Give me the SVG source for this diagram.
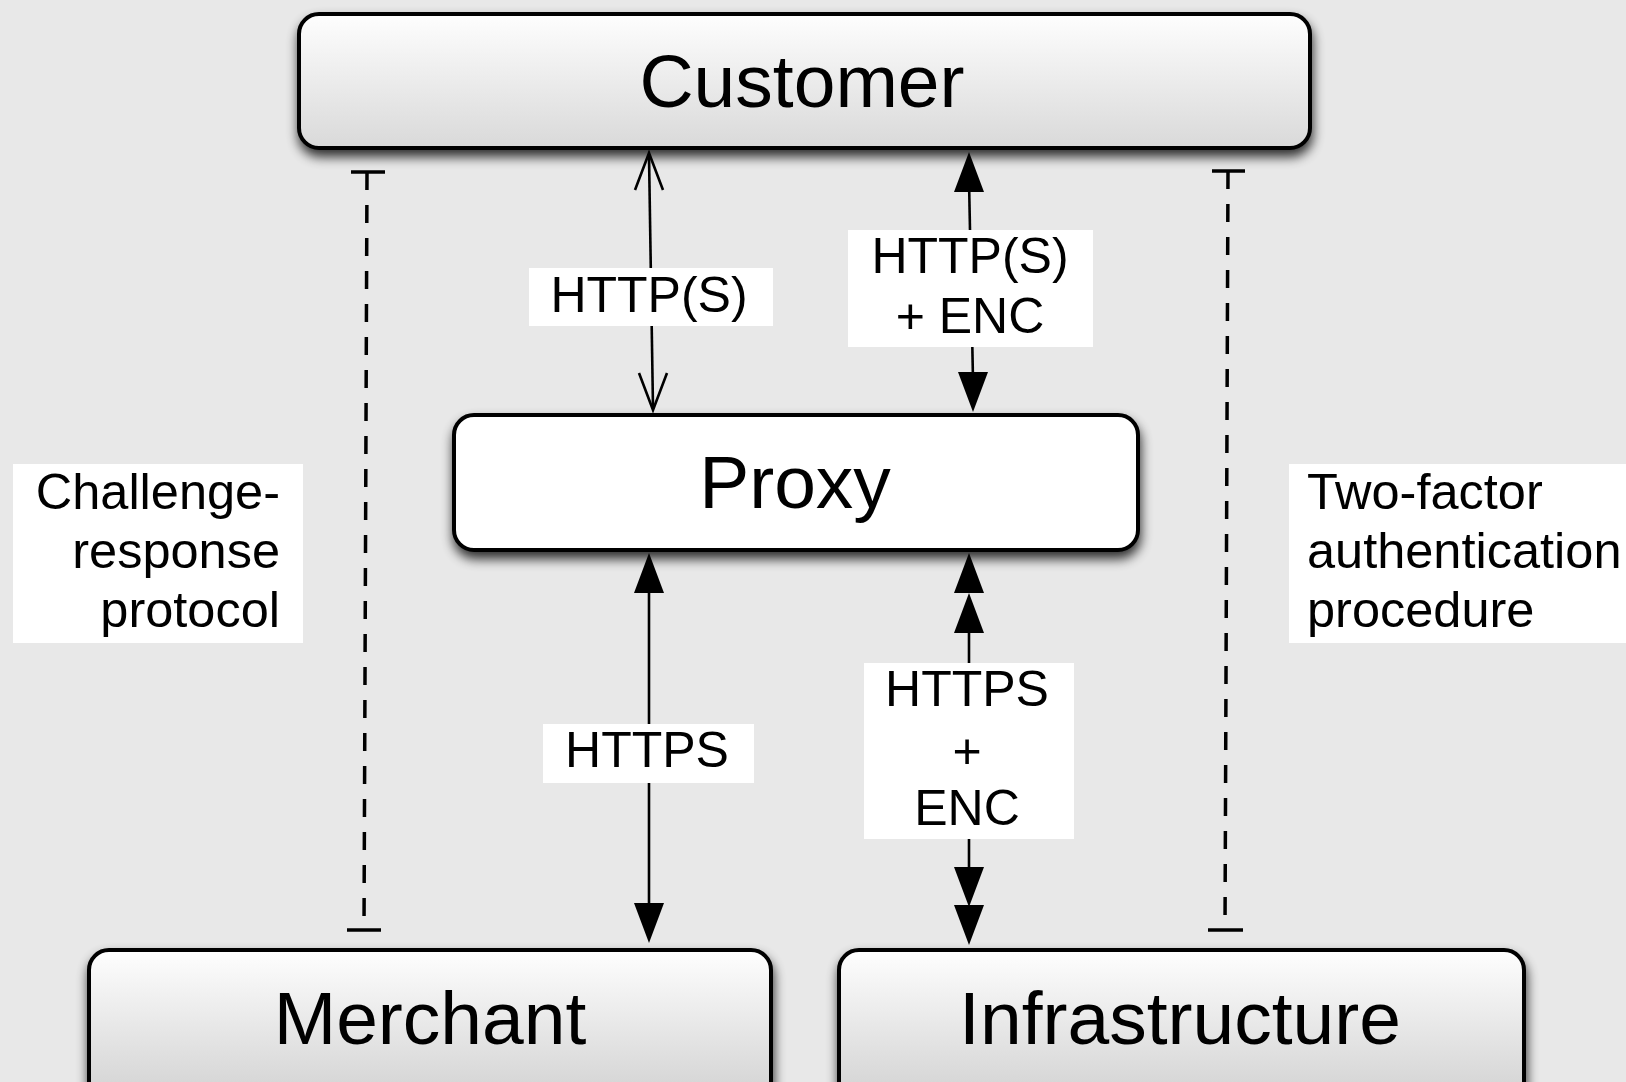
<svg xmlns="http://www.w3.org/2000/svg" xmlns:xlink="http://www.w3.org/1999/xlink" width="1626" height="1082" viewBox="0 0 1626 1082">
<style>
.node{stroke:#000;stroke-width:4}
.ntext{font-family:"Liberation Sans",Arial,Helvetica,sans-serif;font-size:75px;fill:#000;text-anchor:middle}
.ltext{font-family:"Liberation Sans",Arial,Helvetica,sans-serif;font-size:50px;fill:#000;text-anchor:middle}
.stext{font-family:"Liberation Sans",Arial,Helvetica,sans-serif;font-size:50.5px;fill:#000}
.lbl{fill:#fff}
.conn{stroke:#000;stroke-width:2.6;fill:none}
.dash{stroke:#000;stroke-width:3.5;fill:none;stroke-dasharray:18 15}
.bar{stroke:#000;stroke-width:3.5}
.open{stroke:#000;stroke-width:2.6;fill:none;stroke-linejoin:miter}
</style>
<defs>
<linearGradient id="grad" x1="0" y1="0" x2="0" y2="1">
<stop offset="0" stop-color="#fefefe"/>
<stop offset="1" stop-color="#d9d9d9"/>
</linearGradient>
<linearGradient id="gradTall" x1="0" y1="0" x2="0" y2="1">
<stop offset="0" stop-color="#fefefe"/>
<stop offset="1" stop-color="#cfcfcf"/>
</linearGradient>
<filter id="shadow" x="-10%" y="-20%" width="120%" height="150%">
<feGaussianBlur in="SourceAlpha" stdDeviation="6"/>
<feOffset dx="1" dy="7" result="b"/>
<feComponentTransfer in="b" result="s"><feFuncA type="linear" slope="0.8"/></feComponentTransfer>
<feMerge><feMergeNode in="s"/><feMergeNode in="SourceGraphic"/></feMerge>
</filter>
<path id="headDown" d="M0,0 L-15,-40 L15,-40 Z" fill="#000"/>
<path id="headUp" d="M0,0 L-15,40 L15,40 Z" fill="#000"/>
</defs>

<rect x="0" y="0" width="1626" height="1082" fill="#e8e8e8"/>

<g id="node-customer">
<rect class="node" x="299" y="14" width="1011" height="134" rx="20" fill="url(#grad)" filter="url(#shadow)"/>
<text class="ntext" x="802" y="107">Customer</text>
</g>

<g id="node-proxy">
<rect class="node" x="454" y="415" width="684" height="135" rx="20" fill="#fff" filter="url(#shadow)"/>
<text class="ntext" x="795" y="508">Proxy</text>
</g>

<g id="node-merchant">
<rect class="node" x="89" y="950" width="682" height="160" rx="20" fill="url(#gradTall)" filter="url(#shadow)"/>
<text class="ntext" x="430" y="1044">Merchant</text>
</g>

<g id="node-infrastructure">
<rect class="node" x="839" y="950" width="685" height="160" rx="20" fill="url(#gradTall)" filter="url(#shadow)"/>
<text class="ntext" x="1180" y="1044">Infrastructure</text>
</g>

<g id="connectors">
<!-- Customer <-> Proxy : HTTP(S) -->
<line class="conn" x1="649" y1="155" x2="653" y2="408"/>
<path class="open" d="M635,190 L649,153 L663,190"/>
<path class="open" d="M639,373 L653,410 L667,373"/>
<!-- Customer <-> Proxy : HTTP(S) + ENC -->
<line class="conn" x1="969" y1="180" x2="973" y2="380"/>
<use xlink:href="#headUp" x="969" y="152"/>
<use xlink:href="#headDown" x="973" y="412"/>
<!-- Proxy <-> Merchant : HTTPS -->
<line class="conn" x1="649" y1="580" x2="649" y2="915"/>
<use xlink:href="#headUp" x="649" y="553"/>
<use xlink:href="#headDown" x="649" y="943"/>
<!-- Proxy <-> Infrastructure : HTTPS + ENC -->
<line class="conn" x1="969" y1="620" x2="969" y2="880"/>
<use xlink:href="#headUp" x="969" y="553"/>
<use xlink:href="#headUp" x="969" y="593"/>
<use xlink:href="#headDown" x="969" y="907"/>
<use xlink:href="#headDown" x="969" y="945"/>
<!-- Customer - Merchant : challenge-response (dashed) -->
<line class="dash" x1="367" y1="172" x2="364" y2="930"/>
<line class="bar" x1="351" y1="172" x2="385" y2="172"/>
<line class="bar" x1="347" y1="930" x2="381" y2="930"/>
<!-- Customer - Infrastructure : two-factor (dashed) -->
<line class="dash" x1="1228" y1="171" x2="1225" y2="930"/>
<line class="bar" x1="1212" y1="171" x2="1245" y2="171"/>
<line class="bar" x1="1208" y1="930" x2="1243" y2="930"/>

<!-- connector labels -->
<rect class="lbl" x="529" y="268" width="244" height="58"/>
<text class="ltext" x="649" y="312">HTTP(S)</text>
<rect class="lbl" x="848" y="230" width="245" height="117"/>
<text class="ltext" x="970" y="273">HTTP(S)</text>
<text class="ltext" x="970" y="333">+ ENC</text>
<rect class="lbl" x="543" y="724" width="211" height="59"/>
<text class="ltext" x="647" y="767">HTTPS</text>
<rect class="lbl" x="864" y="663" width="210" height="176"/>
<text class="ltext" x="967" y="706">HTTPS</text>
<text class="ltext" x="967" y="768">+</text>
<text class="ltext" x="967" y="825">ENC</text>

<rect class="lbl" x="13" y="464" width="290" height="179"/>
<text class="stext" x="280" y="509" text-anchor="end">Challenge-</text>
<text class="stext" x="280" y="568" text-anchor="end">response</text>
<text class="stext" x="280" y="627" text-anchor="end">protocol</text>
<rect class="lbl" x="1289" y="464" width="337" height="179"/>
<text class="stext" x="1307" y="509">Two-factor</text>
<text class="stext" x="1307" y="568">authentication</text>
<text class="stext" x="1307" y="627">procedure</text>
</g>
</svg>
